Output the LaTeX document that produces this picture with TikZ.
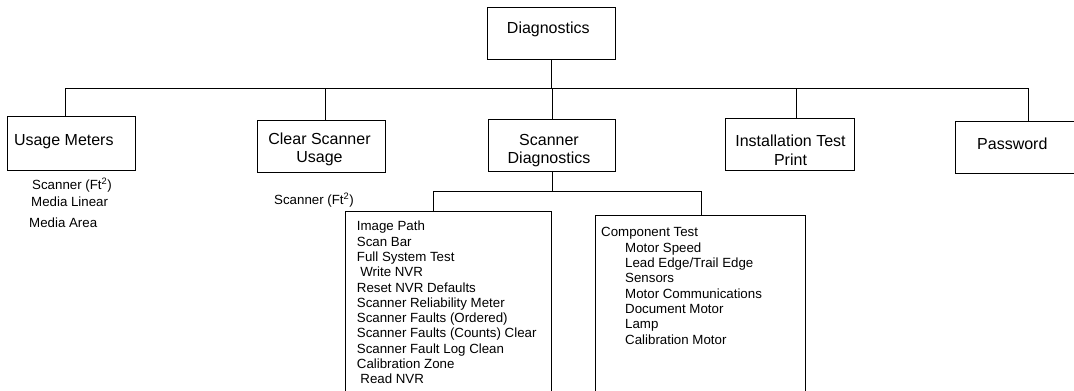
\documentclass[tikz,border=0pt]{standalone}
\usepackage{fontspec}
\setmainfont{Liberation Sans}
\begin{document}
\begin{tikzpicture}[x=1pt,y=-1pt,
  box/.style={draw=black,line width=1pt,rectangle,inner sep=0pt,fill=white},
  conn/.style={draw=black,line width=1pt},
  big/.style={font=\fontsize{16}{18.4}\selectfont,inner sep=0pt},
  small/.style={font=\fontsize{13.3}{15.3}\selectfont,inner sep=0pt}]
\clip (0,0) rectangle (1074,391);
\fill[white] (0,0) rectangle (1074,391);
% boxes
\node[box,minimum width=127.7pt,minimum height=52pt] (diag) at (551.2,33.3) {};
\node[box,minimum width=128pt,minimum height=54pt] (um) at (71.5,143.7) {};
\node[box,minimum width=128.4pt,minimum height=52.3pt] (csu) at (321.5,146.2) {};
\node[box,minimum width=127.4pt,minimum height=52.4pt] (sd) at (552,145.5) {};
\node[box,minimum width=128.3pt,minimum height=52.4pt] (itp) at (789.9,144.5) {};
\node[box,minimum width=128pt,minimum height=52.3pt] (pw) at (1019.7,147.2) {};
\node[box,minimum width=206pt,minimum height=209pt] (lb) at (448,315.5) {};
\node[box,minimum width=210.7pt,minimum height=204.5pt] (rb) at (700.35,317.75) {};
% bus coordinates
\coordinate (busL) at (65.7,88);
\coordinate (busR) at (1028,88);
\coordinate (tcsu) at (325.7,88);
\coordinate (titp) at (796,88);
\coordinate (sbL) at (433.3,191.7);
\coordinate (sbR) at (701.7,191.7);
% connectors
\draw[conn] (diag.south) -- (diag.south |- busL);
\draw[conn] (busL) -- (busR);
\draw[conn] (busL) -- (busL |- um.north);
\draw[conn] (tcsu) -- (tcsu |- csu.north);
\draw[conn] (sd.north |- busL) -- (sd.north);
\draw[conn] (titp) -- (titp |- itp.north);
\draw[conn] (busR) -- (busR |- pw.north);
\draw[conn] (sd.south) -- (sd.south |- sbL);
\draw[conn] (sbL) -- (sbR);
\draw[conn] (sbL) -- (sbL |- lb.north);
\draw[conn] (sbR) -- (sbR |- rb.north);
% box labels
\node[big,anchor=base] (tdiag) at (548.3,33) {Diagnostics};
\node[big,anchor=base west] (tum) at (13.8,145.7) {Usage Meters};
\node[big,anchor=north,align=center] (tcsul) at (319.5,132.4) {Clear Scanner\\Usage};
\node[big,anchor=north,align=center] (tsd) at (549,134.1) {Scanner\\Diagnostics};
\node[big,anchor=north,align=center] (titpl) at (790.5,135.1) {Installation Test\\Print};
\node[big,anchor=base west] (tpw) at (977,149) {Password};
% small texts
\node[small,anchor=base west] (s1) at (32,189.8) {Scanner (Ft\textsuperscript{2})};
\node[small,anchor=base west] (s2) at (31,206.8) {Media Linear};
\node[small,anchor=base west] (s3) at (29,227.8) {Media Area};
\node[small,anchor=base west] (s4) at (274,204.8) {Scanner (Ft\textsuperscript{2})};
\node[small,anchor=north west,align=left] (llist) at (356.7,221) {Image Path\\Scan Bar\\Full System Test\\\hspace*{3.5pt}Write NVR\\Reset NVR Defaults\\Scanner Reliability Meter\\Scanner Faults (Ordered)\\Scanner Faults (Counts) Clear\\Scanner Fault Log Clean\\Calibration Zone\\\hspace*{3.5pt}Read NVR};
\node[small,anchor=north west,align=left] (rlist) at (601,227.5) {Component Test\\\hspace*{24pt}Motor Speed\\\hspace*{24pt}Lead Edge/Trail Edge\\\hspace*{24pt}Sensors\\\hspace*{24pt}Motor Communications\\\hspace*{24pt}Document Motor\\\hspace*{24pt}Lamp\\\hspace*{24pt}Calibration Motor};
\end{tikzpicture}
\end{document}
